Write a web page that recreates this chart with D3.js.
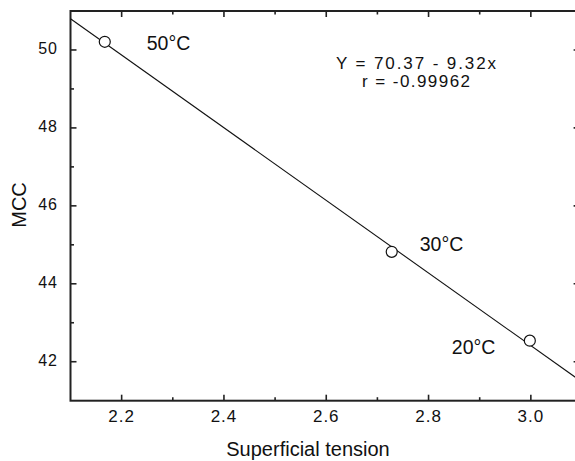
<!DOCTYPE html>
<html>
<head>
<meta charset="utf-8">
<script src="https://cdn.jsdelivr.net/npm/d3@7"></script>
<style>
  body { margin: 0; background: #fff; }
  text { font-family: "Liberation Sans", Arial, sans-serif; fill: #111; }
</style>
</head>
<body>
<div id="chart"></div>
<script>
// measured points
const tension = [2.167, 2.728, 2.998];
const mcc = [50.21, 44.82, 42.54];
const pointLabels = ["50°C", "30°C", "20°C"];

// fitted line end points
const fitX = [2.1, 3.1];
const fitY = [50.80, 41.48];

// axis ticks
const xMajor = [2.2, 2.4, 2.6, 2.8, 3.0];
const xMinor = [2.3, 2.5, 2.7, 2.9];
const yMajor = [42, 44, 46, 48, 50];
const yMinor = [43, 45, 47, 49];

const equation = ["Y = 70.37 - 9.32x", "r = -0.99962"];

function draw() {
  const width = 575;
  const height = 461;

  const svg = d3
    .select("#chart")
    .append("svg")
    .attr("width", width)
    .attr("height", height);

  const x = d3.scaleLinear().domain([2.1, 3.1]).range([70.5, 582]);
  const y = d3.scaleLinear().domain([41, 51]).range([400.7, 11]);

  const [x0, x1] = x.range();
  const [y0, y1] = y.range();

  // frame
  svg
    .append("rect")
    .attr("x", x0)
    .attr("y", y1)
    .attr("width", x1 - x0)
    .attr("height", y0 - y1)
    .attr("fill", "none")
    .attr("stroke", "#222")
    .attr("stroke-width", 2);

  // inward ticks on all four sides
  const tickStroke = (sel) => sel.attr("stroke", "#222").attr("stroke-width", 1.6);

  const xTicks = xMajor.map((v) => ({ v, len: 6 })).concat(xMinor.map((v) => ({ v, len: 3.5 })));
  const yTicks = yMajor.map((v) => ({ v, len: 6 })).concat(yMinor.map((v) => ({ v, len: 3.5 })));

  svg.append("g").selectAll("line").data(xTicks).enter().append("line")
    .attr("x1", (d) => x(d.v)).attr("x2", (d) => x(d.v))
    .attr("y1", y0).attr("y2", (d) => y0 - d.len)
    .call(tickStroke);
  svg.append("g").selectAll("line").data(xTicks).enter().append("line")
    .attr("x1", (d) => x(d.v)).attr("x2", (d) => x(d.v))
    .attr("y1", y1).attr("y2", (d) => y1 + d.len)
    .call(tickStroke);
  svg.append("g").selectAll("line").data(yTicks).enter().append("line")
    .attr("x1", x0).attr("x2", (d) => x0 + d.len)
    .attr("y1", (d) => y(d.v)).attr("y2", (d) => y(d.v))
    .call(tickStroke);
  // right side ticks are a little longer so the majors peek in at the edge
  svg.append("g").selectAll("line").data(yTicks).enter().append("line")
    .attr("x1", x1).attr("x2", (d) => x1 - d.len * 1.4)
    .attr("y1", (d) => y(d.v)).attr("y2", (d) => y(d.v))
    .call(tickStroke);

  // tick labels
  svg.append("g").selectAll("text").data(xMajor).enter().append("text")
    .attr("x", (d) => x(d))
    .attr("y", y0 + 21)
    .attr("text-anchor", "middle")
    .style("font-size", "17px")
    .style("letter-spacing", "1px")
    .text((d) => d.toFixed(1));

  svg.append("g").selectAll("text").data(yMajor).enter().append("text")
    .attr("x", x0 - 12.5)
    .attr("y", (d) => y(d) + 4.5)
    .attr("text-anchor", "end")
    .style("font-size", "16px")
    .style("letter-spacing", "1px")
    .text((d) => d);

  // axis titles
  svg.append("text")
    .attr("x", 308)
    .attr("y", 455.5)
    .attr("text-anchor", "middle")
    .style("font-size", "20px")
    .text("Superficial tension");

  svg.append("text")
    .attr("transform", "translate(26,205) rotate(-90)")
    .attr("text-anchor", "middle")
    .style("font-size", "20px")
    .text("MCC");

  // regression line
  const line = d3.line().x((d) => x(d[0])).y((d) => y(d[1]));
  svg.append("path")
    .datum(d3.zip(fitX, fitY))
    .attr("d", line)
    .attr("fill", "none")
    .attr("stroke", "#111")
    .attr("stroke-width", 1.1);

  // data points
  const points = d3.zip(tension, mcc);
  svg.append("g").selectAll("circle").data(points).enter().append("circle")
    .attr("cx", (d) => x(d[0]))
    .attr("cy", (d) => y(d[1]))
    .attr("r", 5.5)
    .attr("fill", "#fff")
    .attr("stroke", "#111")
    .attr("stroke-width", 1.2);

  // temperature labels, placed relative to their point
  const labelOffset = [[42, 8], [28, -1], [-78, 13]];
  svg.append("g").selectAll("text").data(points).enter().append("text")
    .attr("x", (d, i) => x(d[0]) + labelOffset[i][0])
    .attr("y", (d, i) => y(d[1]) + labelOffset[i][1])
    .style("font-size", "19.5px")
    .text((d, i) => pointLabels[i]);

  // fit equation
  const eqWidths = [160, 108];
  svg.append("g").selectAll("text").data(equation).enter().append("text")
    .attr("x", 416)
    .attr("y", (d, i) => 69 + i * 18)
    .attr("text-anchor", "middle")
    .attr("textLength", (d, i) => eqWidths[i])
    .attr("lengthAdjust", "spacing")
    .style("font-size", "17px")
    .text((d) => d);
}

draw();
</script>
</body>
</html>
